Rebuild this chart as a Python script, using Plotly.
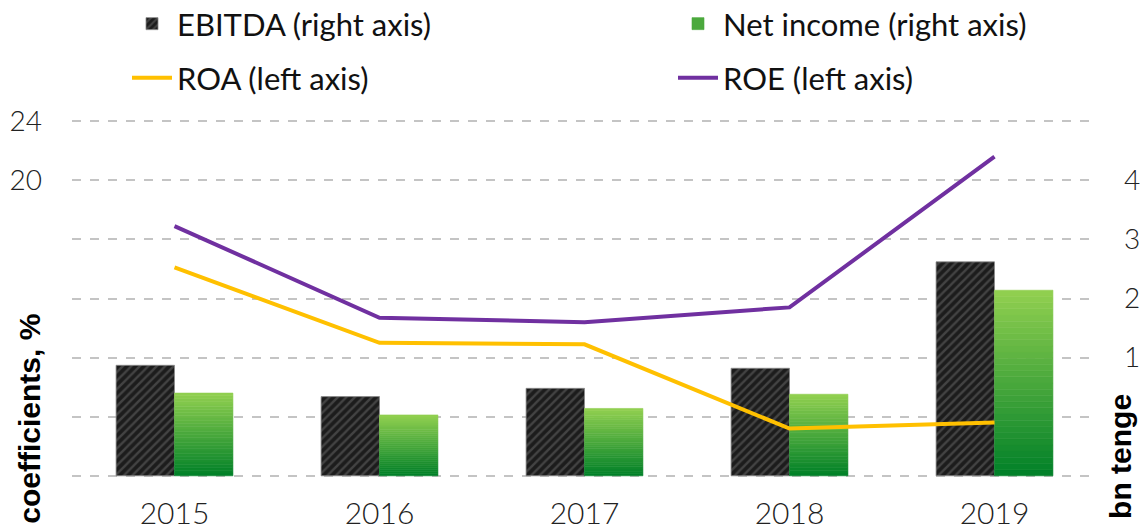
import plotly.graph_objects as go

years = ["2015", "2016", "2017", "2018", "2019"]
ebitda = [1.87, 1.34, 1.48, 1.82, 3.62]        # bn tenge (right axis)
net_income = [1.40, 1.03, 1.14, 1.38, 3.14]    # bn tenge (right axis)
roa = [14.1, 9.0, 8.9, 3.2, 3.6]               # % (left axis)
roe = [16.9, 10.7, 10.4, 11.4, 21.6]           # % (left axis)

left_tickvals = [0, 4, 8, 12, 16, 20, 24]
left_ticktext = ["", "", "", "", "", "20", "24"]
right_tickvals = [0, 1, 2, 3, 4, 5, 6]
right_ticktext = ["", "", "1", "2", "3", "4", ""]

XTICKFONT = dict(family="Lato", size=30, color="#222", weight=300)
YTICKFONT = dict(family="Lato", size=28, color="#222", weight=300)
LEGFONT = dict(family="Lato", size=31, color="#111")
TITLEFONT = dict(family="Liberation Sans", size=30, color="#000")

fig = go.Figure()

fig.add_trace(go.Bar(
    x=years, y=ebitda, name="EBITDA (right axis)", yaxis="y", offsetgroup="e",
    legend="legend",
    marker=dict(color="#222", line=dict(color="#8a8a8a", width=0.8),
                pattern=dict(shape="/", fgcolor="#6a6a6a", bgcolor="#1c1c1c",
                             size=6, solidity=0.4)),
))

# gradient-filled net income bars built from stacked bands
N = 30
c_bot = (0, 128, 40)
c_top = (146, 208, 80)
for k in range(N):
    t = (k + 0.5) / N
    col = "rgb(%d,%d,%d)" % tuple(round(c_bot[i] + (c_top[i] - c_bot[i]) * t) for i in range(3))
    fig.add_trace(go.Bar(
        x=years, y=[v / N for v in net_income], base=[v * k / N for v in net_income],
        name="Net income (right axis)", yaxis="y", offsetgroup="n",
        legend="legend2", legendgroup="ni", showlegend=(k == N // 2),
        marker=dict(color=col, line=dict(color=col, width=0.6)),
        hoverinfo="skip",
    ))

fig.add_trace(go.Scatter(
    x=years, y=roa, name="ROA (left axis)", yaxis="y2", mode="lines",
    legend="legend3", line=dict(color="#FFC000", width=4),
))
fig.add_trace(go.Scatter(
    x=years, y=roe, name="ROE (left axis)", yaxis="y2", mode="lines",
    legend="legend4", line=dict(color="#7030A0", width=4),
))


def leg(xpx, ypx):
    return dict(orientation="h", xref="container", yref="container",
                x=xpx / 1140, y=1 - ypx / 529, xanchor="left", yanchor="middle",
                font=LEGFONT, bgcolor="rgba(0,0,0,0)", itemwidth=40)


fig.update_layout(
    width=1140, height=529,
    showlegend=True,
    margin=dict(l=72, r=43, t=120, b=52, autoexpand=False),
    paper_bgcolor="white", plot_bgcolor="white",
    barmode="group", bargap=0.43, bargroupgap=0,
    xaxis=dict(type="category", showline=False, showgrid=False, ticks="",
               tickfont=XTICKFONT, ticklabelstandoff=16),
    yaxis=dict(side="right", range=[-0.02, 6.02], tickvals=right_tickvals, ticktext=right_ticktext,
               showgrid=True, gridcolor="#c4c4c4", gridwidth=1.5, griddash="dash",
               zeroline=False, showline=False, ticks="", tickfont=YTICKFONT,
               ticklabelstandoff=26, showticklabels=True),
    yaxis2=dict(side="left", overlaying="y", range=[-0.08, 24.08], tickvals=left_tickvals,
                ticktext=left_ticktext, showgrid=False, zeroline=False, showline=False,
                ticks="", tickfont=YTICKFONT, ticklabelstandoff=29),
    legend=leg(127, 24),
    legend2=leg(673, 24),
    legend3=leg(127, 78),
    legend4=leg(673, 78),
    annotations=[
        dict(text="<b>coefficients, %</b>", textangle=-90, xref="paper", yref="paper",
             x=(30 - 72) / 1025, y=(476 - 418) / 355, xanchor="center", yanchor="middle",
             showarrow=False, font=TITLEFONT),
        dict(text="<b>bn tenge</b>", textangle=-90, xref="paper", yref="paper",
             x=(1121 - 72) / 1025, y=(476 - 456) / 355, xanchor="center", yanchor="middle",
             showarrow=False, font=TITLEFONT),
    ],
)

fig.write_html("out.html", config={"displayModeBar": False},
               post_script="document.body.style.margin='0';")
